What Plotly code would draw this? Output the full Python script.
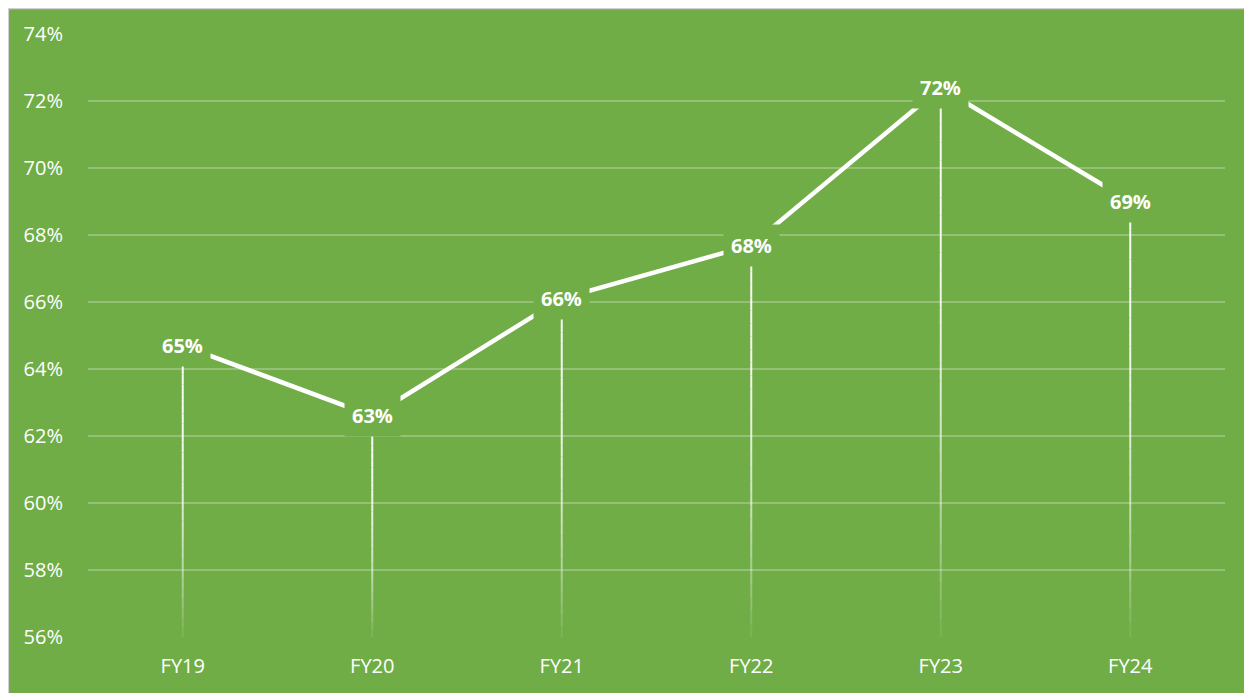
import plotly.graph_objects as go

categories = ["FY19", "FY20", "FY21", "FY22", "FY23", "FY24"]
values = [64.7, 62.6, 66.1, 67.7, 72.4, 69.0]
y_min, y_max, y_step = 56, 74, 2

GREEN = "#70AD47"
FONT = "Open Sans"

fig = go.Figure()

# Drop lines with a fade toward the axis
n_seg = 30
for k in range(n_seg):
    t0, t1 = k / n_seg, (k + 1) / n_seg
    xs, ys = [], []
    for c, v in zip(categories, values):
        top = y_min + (v - y_min) * (1 - t0)
        bot = y_min + (v - y_min) * (1 - t1)
        xs += [c, c, None]
        ys += [top, bot, None]
    mid = (t0 + t1) / 2
    alpha = max(0.05, 0.95 - 0.9 * mid ** 2.5)
    fig.add_trace(go.Scatter(x=xs, y=ys, mode="lines",
                             line=dict(color=f"rgba(255,255,255,{alpha:.3f})", width=2),
                             hoverinfo="skip", showlegend=False))

fig.add_trace(go.Scatter(x=categories, y=values, mode="lines",
                         line=dict(color="white", width=4.5),
                         showlegend=False))

for c, v in zip(categories, values):
    fig.add_annotation(x=c, y=v, xref="x", yref="y", text=f"<b>{round(v)}%</b>",
                       showarrow=False, font=dict(family=FONT, size=20, color="white"),
                       bgcolor=GREEN, borderpad=7, xanchor="center", yanchor="middle")

# thin grey border at the top/left edge
fig.add_shape(type="rect", xref="paper", yref="paper",
              x0=-0.0703, x1=1.05, y0=-0.2, y1=1.0425,
              fillcolor="rgba(0,0,0,0)", line=dict(color="#D0D0D0", width=2), layer="below")

fig.update_layout(
    width=1244, height=685,
    margin=dict(l=80, r=27, t=26, b=56),
    paper_bgcolor=GREEN, plot_bgcolor=GREEN,
    font=dict(family=FONT, color="white"),
)
fig.update_xaxes(type="category", range=[-0.5, len(categories) - 0.5],
                 showgrid=False, zeroline=False, showline=False,
                 ticks="outside", ticklen=11, tickcolor="rgba(0,0,0,0)",
                 tickfont=dict(family=FONT, size=20, color="white"))
fig.update_yaxes(range=[y_min, y_max], dtick=y_step, tick0=y_min, ticksuffix="%",
                 showgrid=True, gridcolor="rgba(255,255,255,0.25)", gridwidth=1.5,
                 zeroline=False, showline=False,
                 ticks="outside", ticklen=20, tickcolor="rgba(0,0,0,0)",
                 tickfont=dict(family=FONT, size=20, color="white"))

fig.write_html("out.html")
